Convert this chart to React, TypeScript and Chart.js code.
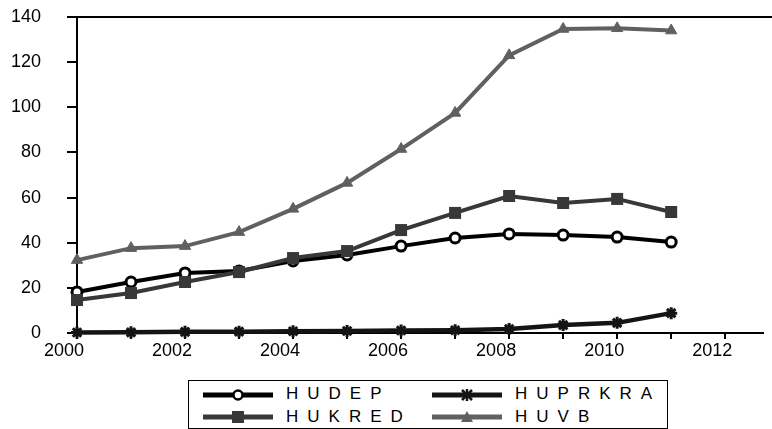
import React, { useEffect, useRef } from "react";
import { Chart, registerables } from "chart.js";

Chart.register(...registerables);

const years = [2000, 2001, 2002, 2003, 2004, 2005, 2006, 2007, 2008, 2009, 2010, 2011];
const xTickYears = [2000, 2001, 2002, 2003, 2004, 2005, 2006, 2007, 2008, 2009, 2010, 2011, 2012];
const yTicks = [0, 20, 40, 60, 80, 100, 120, 140];

const hudep = [18.2, 22.6, 26.6, 27.5, 31.9, 34.6, 38.5, 42.1, 43.9, 43.4, 42.5, 40.3];
const huprkra = [0.2, 0.3, 0.5, 0.6, 0.8, 0.9, 1.1, 1.2, 1.8, 3.5, 4.5, 8.8];
const hukred = [14.6, 17.7, 22.6, 27.0, 33.2, 36.3, 45.6, 53.2, 60.7, 57.6, 59.4, 53.6];
const huvb = [32.3, 37.6, 38.5, 44.7, 55.0, 66.5, 81.5, 97.5, 123.0, 134.7, 135.0, 134.0];

const seriesNames = ["HUDEP", "HUPRKRA", "HUKRED", "HUVB"];

const FONT = "'Liberation Sans', Arial, sans-serif";

const C_DEP = "#000000";
const C_PRK = "#141414";
const C_KRED = "#383838";
const C_VB = "#606060";

const toPts = (vals: number[]) => vals.map((v, i) => ({ x: years[i], y: v }));

const topLinePlugin = {
  id: "topLine",
  afterDraw(chart: any) {
    const { ctx, chartArea } = chart;
    ctx.save();
    ctx.strokeStyle = "#000";
    ctx.lineWidth = 2;
    ctx.beginPath();
    ctx.moveTo(chartArea.left, chartArea.top);
    ctx.lineTo(chart.width, chartArea.top);
    ctx.stroke();
    ctx.restore();
  },
};

export default function App() {
  const ref = useRef<HTMLCanvasElement | null>(null);

  useEffect(() => {
    if (!ref.current) return;
    const chart = new Chart(ref.current, {
      type: "line",
      data: {
        datasets: [
          {
            label: seriesNames[2],
            data: toPts(hukred),
            borderColor: C_KRED,
            backgroundColor: C_KRED,
            borderWidth: 4,
            pointStyle: "rect",
            pointRadius: 8.5,
            pointBorderWidth: 0,
            pointBackgroundColor: C_KRED,
            clip: false,
          },
          {
            label: seriesNames[0],
            data: toPts(hudep),
            borderColor: C_DEP,
            backgroundColor: "#fff",
            borderWidth: 4,
            pointStyle: "circle",
            pointRadius: 5,
            pointBorderWidth: 3,
            pointBackgroundColor: "#fff",
            pointBorderColor: C_DEP,
            clip: false,
          },
          {
            label: seriesNames[1],
            data: toPts(huprkra),
            borderColor: C_PRK,
            backgroundColor: C_PRK,
            borderWidth: 4.5,
            pointStyle: "star",
            pointRadius: 6,
            pointBorderWidth: 3,
            pointBorderColor: C_PRK,
            clip: false,
          },
          {
            label: seriesNames[3],
            data: toPts(huvb),
            borderColor: C_VB,
            backgroundColor: C_VB,
            borderWidth: 4,
            pointStyle: "triangle",
            pointRadius: 6.5,
            pointBorderWidth: 1,
            pointBackgroundColor: C_VB,
            pointBorderColor: C_VB,
            clip: false,
          },
        ],
      },
      options: {
        animation: false,
        responsive: false,
        maintainAspectRatio: false,
        layout: { padding: { top: 17, left: 0, right: 0, bottom: 0 } },
        plugins: {
          legend: { display: false },
          tooltip: { enabled: false },
        },
        scales: {
          x: {
            type: "linear",
            min: 2000,
            max: 2012.7,
            afterBuildTicks: (scale: any) => {
              scale.ticks = xTickYears.map((v) => ({ value: v }));
            },
            afterFit: (scale: any) => {
              scale.height = 37;
              scale.paddingLeft = 0;
              scale.paddingRight = 0;
            },
            grid: {
              drawOnChartArea: false,
              drawTicks: true,
              tickLength: 6,
              color: "#000",
              lineWidth: 2,
            },
            border: { display: true, color: "#000", width: 2 },
            ticks: {
              color: "#000",
              font: { family: FONT, size: 18 },
              padding: 1,
              labelOffset: -13,
              maxRotation: 0,
              autoSkip: false,
              callback: (v: any) => (Number(v) % 2 === 0 ? String(v) : ""),
            },
          },
          y: {
            type: "linear",
            min: 0,
            max: 140,
            afterBuildTicks: (scale: any) => {
              scale.ticks = yTicks.map((v) => ({ value: v }));
            },
            afterFit: (scale: any) => {
              scale.width = 77;
              scale.paddingTop = 0;
              scale.paddingBottom = 0;
            },
            grid: {
              drawOnChartArea: false,
              drawTicks: true,
              tickLength: 10,
              color: "#000",
              lineWidth: 2,
            },
            border: { display: true, color: "#000", width: 2 },
            ticks: {
              color: "#000",
              font: { family: FONT, size: 18 },
              padding: 26,
              callback: (v: any) => String(v),
            },
          },
        },
      },
      plugins: [topLinePlugin],
    } as any);
    return () => chart.destroy();
  }, []);

  const textStyle: React.CSSProperties = {
    position: "absolute",
    fontFamily: FONT,
    fontSize: 17,
    letterSpacing: "9px",
    color: "#000",
    lineHeight: "17px",
    whiteSpace: "nowrap",
  };

  const sample = (kind: string, color: string, left: number, cy: number) => (
    <svg
      style={{ position: "absolute", left, top: cy - 9 }}
      width={72}
      height={18}
      viewBox="0 0 72 18"
    >
      <line x1={1} y1={9} x2={71} y2={9} stroke={color} strokeWidth={5} />
      {kind === "circle" && (
        <circle cx={36} cy={9} r={4.5} fill="#fff" stroke={color} strokeWidth={2.5} />
      )}
      {kind === "star" && (
        <g stroke={color} strokeWidth={2.5}>
          <line x1={31} y1={4} x2={41} y2={14} />
          <line x1={31} y1={14} x2={41} y2={4} />
          <line x1={36} y1={3} x2={36} y2={15} />
        </g>
      )}
      {kind === "rect" && <rect x={30} y={3} width={12} height={12} fill={color} />}
      {kind === "triangle" && <polygon points="36,3 42,14 30,14" fill={color} />}
    </svg>
  );

  return (
    <div style={{ position: "absolute", left: 0, top: 0, width: 772, height: 429, background: "#fff", overflow: "hidden" }}>
      <canvas ref={ref} width={772} height={370} style={{ position: "absolute", left: 0, top: 0, width: 772, height: 370 }} />
      <div
        style={{
          position: "absolute",
          left: 188,
          top: 380,
          width: 480,
          height: 49,
          border: "1.5px solid #000",
          boxSizing: "border-box",
        }}
      />
      {sample("circle", C_DEP, 202, 395)}
      <div style={{ ...textStyle, left: 286, top: 385 }}>{seriesNames[0]}</div>
      {sample("star", C_PRK, 431, 395)}
      <div style={{ ...textStyle, left: 515, top: 385 }}>{seriesNames[1]}</div>
      {sample("rect", C_KRED, 202, 417)}
      <div style={{ ...textStyle, left: 286, top: 408 }}>{seriesNames[2]}</div>
      {sample("triangle", C_VB, 431, 417)}
      <div style={{ ...textStyle, left: 515, top: 408 }}>{seriesNames[3]}</div>
    </div>
  );
}
